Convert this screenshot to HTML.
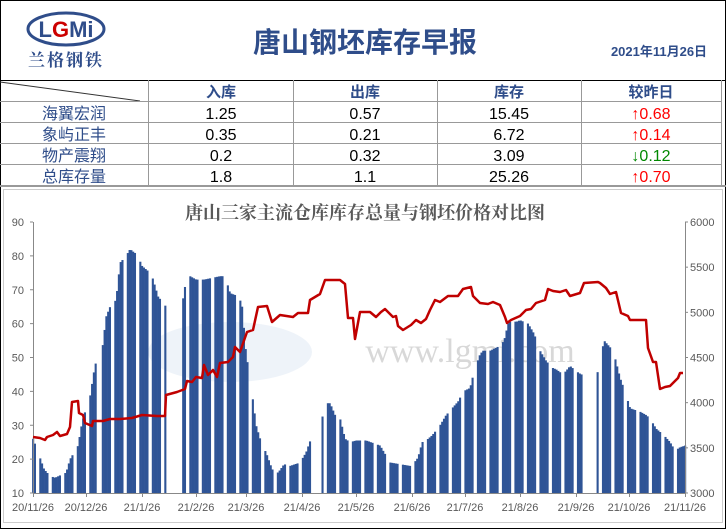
<!DOCTYPE html>
<html><head><meta charset="utf-8"><style>
body{margin:0;width:726px;height:529px;background:#fff;font-family:"Liberation Sans","Noto Sans CJK SC",sans-serif;overflow:hidden;position:relative}
</style></head><body>
<svg width="726" height="529" style="position:absolute;left:0;top:0" xmlns="http://www.w3.org/2000/svg">
<rect x="0.5" y="0.5" width="725" height="528" fill="none" stroke="#000"/>
<ellipse cx="66" cy="29" rx="38" ry="16" fill="none" stroke="#2f4d8a" stroke-width="3"/>
<text x="66" y="37" text-anchor="middle" font-family="Liberation Sans,sans-serif" font-weight="bold" font-size="22" fill="#2f4d8a">L<tspan fill="#c00">G</tspan>Mi</text>
<text x="66" y="66" text-anchor="middle" font-family="Noto Serif CJK SC,serif" font-weight="bold" font-size="17" fill="#2f4d8a" letter-spacing="2">兰格钢铁</text>
<text x="365" y="52" text-anchor="middle" font-family="Liberation Sans,Noto Sans CJK SC,sans-serif" font-weight="bold" font-size="28" fill="#2f4d8a">唐山钢坯库存早报</text>
<text x="659" y="56" text-anchor="middle" font-family="Liberation Sans,Noto Sans CJK SC,sans-serif" font-weight="bold" font-size="13" fill="#2f4d8a">2021年11月26日</text>
<line x1="0" y1="80.5" x2="726" y2="80.5" stroke="#000"/>
<line x1="0" y1="82" x2="140" y2="101" stroke="#333"/>
<g stroke="#999" stroke-width="1">
<line x1="0" y1="101.5" x2="722" y2="101.5"/><line x1="0" y1="122.5" x2="722" y2="122.5"/><line x1="0" y1="143.5" x2="722" y2="143.5"/><line x1="0" y1="164.5" x2="722" y2="164.5"/>
<line x1="148.5" y1="80" x2="148.5" y2="186"/><line x1="293.5" y1="80" x2="293.5" y2="186"/><line x1="437.5" y1="80" x2="437.5" y2="186"/><line x1="581.5" y1="80" x2="581.5" y2="186"/><line x1="721.5" y1="80" x2="721.5" y2="186"/>
</g>
<line x1="0" y1="186" x2="726" y2="186" stroke="#999" stroke-width="2"/>
<g font-family="Liberation Sans,Noto Sans CJK SC,sans-serif" font-size="16" text-anchor="middle">
<g font-weight="bold" fill="#2f4d8a" font-size="15"><text x="221" y="97">入库</text><text x="365" y="97">出库</text><text x="509" y="97">库存</text><text x="651" y="97">较昨日</text></g>
<g fill="#2f4d8a"><text x="74" y="119">海翼宏润</text><text x="74" y="140">象屿正丰</text><text x="74" y="161">物产震翔</text><text x="74" y="182">总库存量</text></g>
<g fill="#000"><text x="221" y="119">1.25</text><text x="365" y="119">0.57</text><text x="509" y="119">15.45</text>
<text x="221" y="140">0.35</text><text x="365" y="140">0.21</text><text x="509" y="140">6.72</text>
<text x="221" y="161">0.2</text><text x="365" y="161">0.32</text><text x="509" y="161">3.09</text>
<text x="221" y="182">1.8</text><text x="365" y="182">1.1</text><text x="509" y="182">25.26</text></g>
<text x="651" y="119" fill="#f00">↑0.68</text><text x="651" y="140" fill="#f00">↑0.14</text><text x="651" y="161" fill="#080">↓0.12</text><text x="651" y="182" fill="#f00">↑0.70</text>
</g>
<rect x="3.5" y="189.5" width="719" height="333" fill="none" stroke="#ccc"/>
<text x="365" y="219" text-anchor="middle" font-family="Noto Serif CJK SC,serif" font-weight="bold" font-size="18" fill="#595959">唐山三家主流仓库库存总量与钢坯价格对比图</text>
<ellipse cx="230" cy="352" rx="82" ry="30" fill="#dde8f4" opacity="0.5"/>
<text x="470" y="362" text-anchor="middle" font-family="Liberation Serif,serif" font-size="34" fill="#d8d8d8">www.lgmi.com</text>
<g id="bars" fill="#2f5496"></g>
<g stroke="#888" stroke-width="1" fill="none">
<line x1="33.5" y1="222" x2="33.5" y2="493"/><line x1="685.5" y1="222" x2="685.5" y2="493"/><line x1="33" y1="493.5" x2="686" y2="493.5"/>
</g>
<g id="ticks" stroke="#888"></g>
<g id="lbl" font-family="Liberation Sans,sans-serif" font-size="11" fill="#595959"></g>
<polyline id="price" fill="none" stroke="#c00000" stroke-width="2.5" stroke-linejoin="round"/>
</svg>
<script>
var ns="http://www.w3.org/2000/svg";
function interp(k,x){if(x<=k[0][0])return k[0][1];for(var i=1;i<k.length;i++){if(x<=k[i][0]){var a=k[i-1],b=k[i];return a[1]+(b[1]-a[1])*(x-a[0])/(b[0]-a[0]);}}return k[k.length-1][1];}
var bk=[[33,26],[38,22],[44,17],[50,15],[55,14.5],[62,15.5],[66,16],[70,20],[73,21.5],[78,24],[82,31],[86,35],[90,38.5],[95,48],[100,50],[102,52],[106,62],[110,65],[116,67],[120,78],[126,80],[130,82],[134,81],[137,80.5],[142,77],[148,75.5],[152,74],[158,68],[166,65],[182,65.5],[186,73],[190,74],[196,73],[204,73],[212,73.5],[220,74],[225,74],[230,69],[239,68],[242,65],[246,51],[250,44],[256,30],[262,24],[266,22],[272,17],[278,16],[284,18.5],[290,18],[300,19],[306,22],[312,27],[320,29],[325,36.5],[330,36.5],[335,33],[340,32],[345,26],[350,25],[356,25.5],[366,25.5],[380,24],[390,19],[400,18.5],[410,18],[413,18.5],[418,20.5],[422,25],[426,25.5],[432,27],[440,30],[446,33],[452,35],[458,37],[463,40],[470,41],[474,46],[480,51],[483,52],[490,52],[500,53.5],[504,55],[508,60],[512,61],[516,60.5],[520,61],[528,60],[534,57],[540,52],[546,49],[552,47],[556,46.5],[563,45],[570,47.5],[576,46],[581,45],[597,45],[604,55],[610,53],[614,51],[620,44],[626,39],[630,35],[640,34],[646,33],[650,32],[656,29],[664,27],[670,25],[675,22.5],[680,23.5],[685,24]];
var g=document.getElementById("bars");var step=652/365;
var hol=[[75,83],[157,161],[308,315],[36,37]];
for(var d=0;d<=365;d++){var wd=(4+d)%7;if(wd==0||wd==6)continue;var skip=false;hol.forEach(function(h){if(d>=h[0]&&d<=h[1])skip=true;});if(skip)continue;
var x=33+d*step;var v=interp(bk,x);var y=222+(90-v)*271/80;var r=document.createElementNS(ns,"rect");r.setAttribute("x",x-0.9);r.setAttribute("width",2.1);r.setAttribute("y",y);r.setAttribute("height",493-y);g.appendChild(r);}
var pp=[[33,437],[40,438],[45,440],[47,437],[53,435],[57,432],[60,436],[67,434],[70,427],[72,402],[78,401],[79,413],[83,415],[85,423],[92,426],[93,421],[103,421],[110,419],[120,419],[132,418],[142,415],[157,416],[165,416],[166,395],[177,392],[185,389],[187,381],[192,382],[196,377],[202,378],[204,365],[208,375],[213,370],[217,377],[220,363],[228,362],[233,357],[235,347],[240,352],[247,332],[253,330],[258,307],[267,306],[272,322],[280,315],[293,317],[298,313],[308,313],[310,300],[320,294],[325,280],[340,280],[345,284],[348,318],[353,318],[355,339],[360,312],[370,312],[376,317],[381,312],[385,309],[393,317],[396,316],[398,326],[403,330],[411,325],[416,320],[421,323],[426,319],[430,310],[435,300],[440,302],[448,296],[458,296],[463,289],[471,287],[473,296],[480,303],[488,304],[493,302],[500,305],[505,317],[507,323],[511,320],[520,316],[526,310],[531,309],[536,303],[545,300],[548,289],[553,291],[560,292],[566,290],[570,296],[580,293],[584,283],[598,282],[600,283],[606,288],[610,294],[616,292],[621,313],[628,316],[630,320],[646,320],[648,348],[653,362],[656,362],[660,389],[665,387],[670,386],[678,378],[680,373],[683,373]];
document.getElementById("price").setAttribute("points",pp.map(function(p){return p.join(",")}).join(" "));
var L=document.getElementById("lbl"),T=document.getElementById("ticks");
function txt(x,y,s,a){var t=document.createElementNS(ns,"text");t.setAttribute("x",x);t.setAttribute("y",y);t.setAttribute("text-anchor",a);t.textContent=s;L.appendChild(t);}
function ln(a,b,c,d){var l=document.createElementNS(ns,"line");l.setAttribute("x1",a);l.setAttribute("y1",b);l.setAttribute("x2",c);l.setAttribute("y2",d);T.appendChild(l);}
for(var i=0;i<=8;i++){var y=493-i*271/8;txt(24,y+4,String(10+i*10),"end");ln(30,y,33,y);}
for(var i=0;i<=6;i++){var y=493-i*271/6;txt(690,y+4,String(3000+i*500),"start");ln(685,y,688,y);}
var xl=[[33,"20/11/26"],[86,"20/12/26"],[142,"21/1/26"],[196,"21/2/26"],[246,"21/3/26"],[302,"21/4/26"],[356,"21/5/26"],[412,"21/6/26"],[465,"21/7/26"],[520,"21/8/26"],[576,"21/9/26"],[629,"21/10/26"],[685,"21/11/26"]];
xl.forEach(function(p){txt(p[0],511,p[1],"middle");ln(p[0]+0.5,493,p[0]+0.5,497);});
</script>
</body></html>
